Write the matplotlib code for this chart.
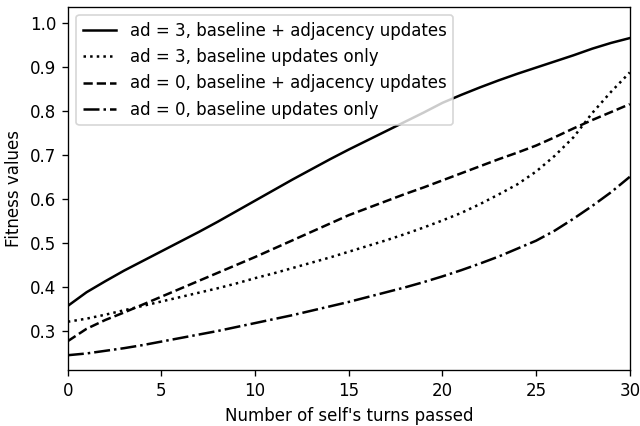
import matplotlib
matplotlib.use('Agg')
import matplotlib.pyplot as plt

turns = list(range(31))

# ad = 3, baseline + adjacency updates
ad3_adj = [0.357, 0.388, 0.413, 0.437, 0.459, 0.481, 0.503, 0.525, 0.548, 0.572,
           0.596, 0.620, 0.644, 0.667, 0.690, 0.712, 0.733, 0.754, 0.775, 0.796,
           0.818, 0.836, 0.853, 0.869, 0.884, 0.898, 0.912, 0.926, 0.941, 0.954,
           0.965]
# ad = 3, baseline updates only
ad3_base = [0.321, 0.328, 0.337, 0.347, 0.357, 0.367, 0.377, 0.387, 0.397, 0.408,
            0.420, 0.431, 0.443, 0.455, 0.467, 0.480, 0.493, 0.506, 0.520, 0.535,
            0.551, 0.568, 0.588, 0.610, 0.633, 0.662, 0.698, 0.740, 0.795, 0.843,
            0.887]
# ad = 0, baseline + adjacency updates
ad0_adj = [0.277, 0.305, 0.325, 0.342, 0.360, 0.378, 0.396, 0.414, 0.432, 0.450,
           0.468, 0.487, 0.506, 0.525, 0.544, 0.563, 0.579, 0.595, 0.611, 0.626,
           0.642, 0.658, 0.674, 0.690, 0.705, 0.721, 0.740, 0.760, 0.779, 0.797,
           0.815]
# ad = 0, baseline updates only
ad0_base = [0.245, 0.249, 0.255, 0.261, 0.268, 0.276, 0.284, 0.292, 0.300, 0.309,
            0.318, 0.327, 0.336, 0.346, 0.356, 0.366, 0.377, 0.388, 0.399, 0.411,
            0.424, 0.438, 0.453, 0.469, 0.487, 0.505, 0.528, 0.555, 0.584, 0.615,
            0.650]

# drawn at 120 dpi so text and lines come out ~1.2x the defaults
fig, ax = plt.subplots(figsize=(6.4 / 1.2, 4.26 / 1.2), dpi=120)
fig.subplots_adjust(left=0.106, right=0.984, top=0.984, bottom=0.131)

ax.plot(turns, ad3_adj, color='black', linestyle='-', label='ad = 3, baseline + adjacency updates')
ax.plot(turns, ad3_base, color='black', linestyle=':', label='ad = 3, baseline updates only')
ax.plot(turns, ad0_adj, color='black', linestyle='--', label='ad = 0, baseline + adjacency updates')
ax.plot(turns, ad0_base, color='black', linestyle='-.', label='ad = 0, baseline updates only')

ax.set_xlim(0, 30)
ax.set_ylim(0.211, 1.036)
ax.set_xlabel("Number of self's turns passed")
ax.set_ylabel('Fitness values')
ax.legend(loc='upper left')

fig.savefig('out.png', dpi=120)
